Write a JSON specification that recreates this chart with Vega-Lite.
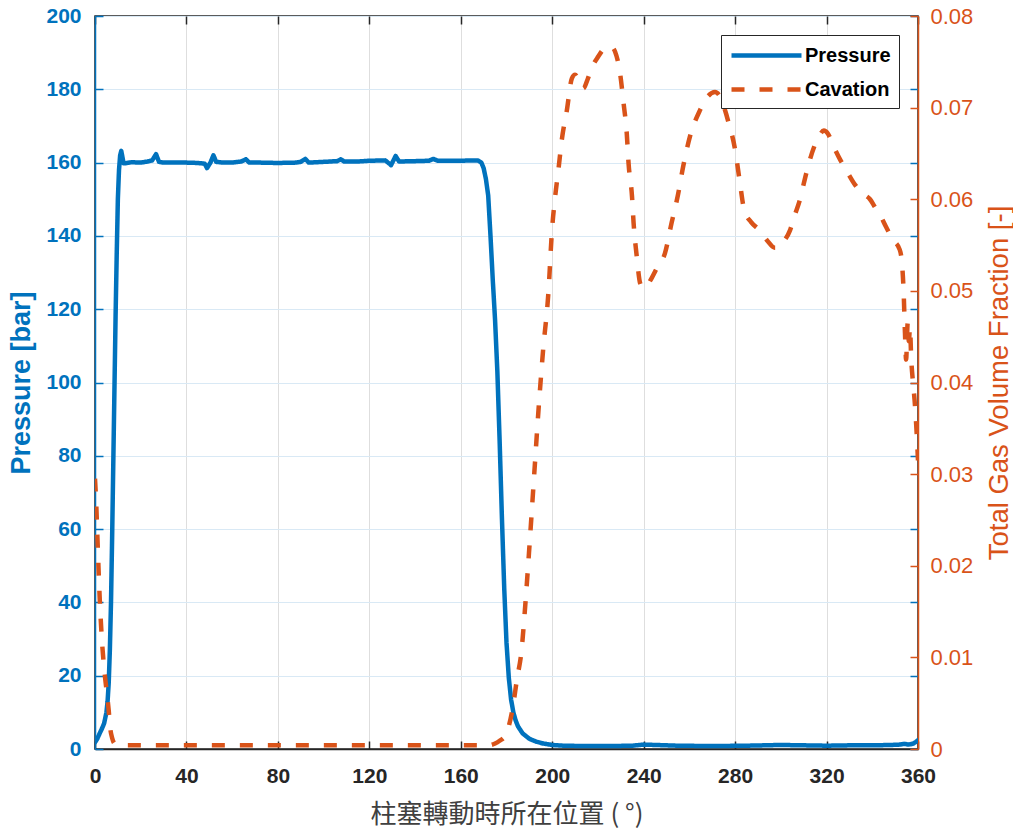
{
  "$schema": "https://vega.github.io/schema/vega-lite/v6.json",
  "width": 823,
  "height": 733,
  "autosize": "none",
  "padding": {"left": 95, "top": 16, "right": 95, "bottom": 80},
  "background": "white",
  "config": {
    "view": {"stroke": "#262626", "strokeWidth": 1.5},
    "font": "Liberation Sans"
  },
  "data": {"values": [
    {"series":"Pressure","deg":0,"value":1.8},{"series":"Pressure","deg":1,"value":2.8},{"series":"Pressure","deg":2,"value":4.2},{"series":"Pressure","deg":3,"value":5.5},{"series":"Pressure","deg":4,"value":7},{"series":"Pressure","deg":5,"value":10},{"series":"Pressure","deg":5.5,"value":13},{"series":"Pressure","deg":6,"value":18},{"series":"Pressure","deg":6.5,"value":27},{"series":"Pressure","deg":7,"value":40},{"series":"Pressure","deg":7.5,"value":58},{"series":"Pressure","deg":8,"value":78},{"series":"Pressure","deg":8.5,"value":98},{"series":"Pressure","deg":9,"value":118},{"series":"Pressure","deg":9.5,"value":135},{"series":"Pressure","deg":10,"value":150},{"series":"Pressure","deg":10.5,"value":158},{"series":"Pressure","deg":11,"value":162},{"series":"Pressure","deg":11.5,"value":163.2},{"series":"Pressure","deg":12,"value":161.5},{"series":"Pressure","deg":12.5,"value":159.8},{"series":"Pressure","deg":13,"value":159.8},{"series":"Pressure","deg":16,"value":160.1},{"series":"Pressure","deg":20,"value":160},{"series":"Pressure","deg":23,"value":160.3},{"series":"Pressure","deg":25,"value":160.6},{"series":"Pressure","deg":26.7,"value":162.3},{"series":"Pressure","deg":28,"value":160.2},{"series":"Pressure","deg":30,"value":160},{"series":"Pressure","deg":35,"value":160},{"series":"Pressure","deg":40,"value":160},{"series":"Pressure","deg":45,"value":159.9},{"series":"Pressure","deg":48,"value":159.7},{"series":"Pressure","deg":49,"value":158.5},{"series":"Pressure","deg":50.5,"value":160},{"series":"Pressure","deg":51.8,"value":162},{"series":"Pressure","deg":53,"value":160.2},{"series":"Pressure","deg":56,"value":160},{"series":"Pressure","deg":60,"value":160},{"series":"Pressure","deg":64,"value":160.3},{"series":"Pressure","deg":66,"value":160.9},{"series":"Pressure","deg":67.5,"value":160},{"series":"Pressure","deg":72,"value":160},{"series":"Pressure","deg":80,"value":159.9},{"series":"Pressure","deg":88,"value":160},{"series":"Pressure","deg":90,"value":160.2},{"series":"Pressure","deg":92,"value":161},{"series":"Pressure","deg":93.5,"value":160},{"series":"Pressure","deg":100,"value":160.2},{"series":"Pressure","deg":106,"value":160.4},{"series":"Pressure","deg":107.5,"value":160.9},{"series":"Pressure","deg":109,"value":160.3},{"series":"Pressure","deg":115,"value":160.3},{"series":"Pressure","deg":120,"value":160.5},{"series":"Pressure","deg":127,"value":160.6},{"series":"Pressure","deg":129.5,"value":159.3},{"series":"Pressure","deg":131.5,"value":161.8},{"series":"Pressure","deg":133,"value":160.3},{"series":"Pressure","deg":140,"value":160.4},{"series":"Pressure","deg":146,"value":160.5},{"series":"Pressure","deg":148,"value":161},{"series":"Pressure","deg":150,"value":160.5},{"series":"Pressure","deg":160,"value":160.5},{"series":"Pressure","deg":165,"value":160.6},{"series":"Pressure","deg":167.5,"value":160.6},{"series":"Pressure","deg":169,"value":160},{"series":"Pressure","deg":170,"value":158.5},{"series":"Pressure","deg":171,"value":155.5},{"series":"Pressure","deg":172,"value":151},{"series":"Pressure","deg":173,"value":140},{"series":"Pressure","deg":174,"value":128},{"series":"Pressure","deg":175,"value":117},{"series":"Pressure","deg":176,"value":103},{"series":"Pressure","deg":177,"value":84},{"series":"Pressure","deg":178,"value":63},{"series":"Pressure","deg":179,"value":44},{"series":"Pressure","deg":180,"value":29},{"series":"Pressure","deg":181,"value":19.5},{"series":"Pressure","deg":182,"value":13.5},{"series":"Pressure","deg":183,"value":10},{"series":"Pressure","deg":184,"value":7.8},{"series":"Pressure","deg":185,"value":6.2},{"series":"Pressure","deg":187,"value":4.3},{"series":"Pressure","deg":190,"value":2.8},{"series":"Pressure","deg":193,"value":2},{"series":"Pressure","deg":196,"value":1.5},{"series":"Pressure","deg":200,"value":1.1},{"series":"Pressure","deg":205,"value":0.9},{"series":"Pressure","deg":215,"value":0.8},{"series":"Pressure","deg":225,"value":0.8},{"series":"Pressure","deg":235,"value":0.9},{"series":"Pressure","deg":240,"value":1.2},{"series":"Pressure","deg":245,"value":1.1},{"series":"Pressure","deg":255,"value":0.9},{"series":"Pressure","deg":270,"value":0.8},{"series":"Pressure","deg":285,"value":0.9},{"series":"Pressure","deg":300,"value":1.1},{"series":"Pressure","deg":310,"value":1},{"series":"Pressure","deg":320,"value":0.9},{"series":"Pressure","deg":330,"value":1},{"series":"Pressure","deg":340,"value":1},{"series":"Pressure","deg":348,"value":1.1},{"series":"Pressure","deg":352,"value":1.2},{"series":"Pressure","deg":354,"value":1.4},{"series":"Pressure","deg":356,"value":1.2},{"series":"Pressure","deg":358,"value":1.5},{"series":"Pressure","deg":359,"value":1.9},{"series":"Pressure","deg":360,"value":2.4},
    {"series":"Cavation","deg":0,"value":0.0295},{"series":"Cavation","deg":0.5,"value":0.027},{"series":"Cavation","deg":1,"value":0.0235},{"series":"Cavation","deg":1.5,"value":0.02},{"series":"Cavation","deg":2,"value":0.0168},{"series":"Cavation","deg":3,"value":0.012},{"series":"Cavation","deg":4,"value":0.0088},{"series":"Cavation","deg":5,"value":0.0065},{"series":"Cavation","deg":6,"value":0.0042},{"series":"Cavation","deg":6.6,"value":0.0024},{"series":"Cavation","deg":7.5,"value":0.0012},{"series":"Cavation","deg":8.5,"value":0.0006},{"series":"Cavation","deg":10,"value":0.0004},{"series":"Cavation","deg":40,"value":0.0004},{"series":"Cavation","deg":80,"value":0.0004},{"series":"Cavation","deg":120,"value":0.0004},{"series":"Cavation","deg":160,"value":0.0004},{"series":"Cavation","deg":172,"value":0.0004},{"series":"Cavation","deg":175,"value":0.0006},{"series":"Cavation","deg":177,"value":0.0009},{"series":"Cavation","deg":179.3,"value":0.0014},{"series":"Cavation","deg":181,"value":0.0025},{"series":"Cavation","deg":182.8,"value":0.0046},{"series":"Cavation","deg":184.5,"value":0.0075},{"series":"Cavation","deg":186.6,"value":0.0108},{"series":"Cavation","deg":188,"value":0.015},{"series":"Cavation","deg":190,"value":0.022},{"series":"Cavation","deg":192,"value":0.0295},{"series":"Cavation","deg":194,"value":0.037},{"series":"Cavation","deg":196,"value":0.0435},{"series":"Cavation","deg":198.3,"value":0.0497},{"series":"Cavation","deg":199.9,"value":0.0566},{"series":"Cavation","deg":201.3,"value":0.0603},{"series":"Cavation","deg":202.7,"value":0.0632},{"series":"Cavation","deg":204.2,"value":0.0665},{"series":"Cavation","deg":206.4,"value":0.0697},{"series":"Cavation","deg":208.6,"value":0.0732},{"series":"Cavation","deg":210,"value":0.0736},{"series":"Cavation","deg":211.5,"value":0.0731},{"series":"Cavation","deg":213.6,"value":0.0721},{"series":"Cavation","deg":215.5,"value":0.0731},{"series":"Cavation","deg":217.2,"value":0.0743},{"series":"Cavation","deg":220.2,"value":0.0756},{"series":"Cavation","deg":222.5,"value":0.0764},{"series":"Cavation","deg":224.6,"value":0.0767},{"series":"Cavation","deg":226.2,"value":0.0766},{"series":"Cavation","deg":227.5,"value":0.0761},{"series":"Cavation","deg":229.7,"value":0.0737},{"series":"Cavation","deg":231.2,"value":0.0705},{"series":"Cavation","deg":232.6,"value":0.0672},{"series":"Cavation","deg":233.4,"value":0.0639},{"series":"Cavation","deg":234.9,"value":0.0603},{"series":"Cavation","deg":235.6,"value":0.0574},{"series":"Cavation","deg":237,"value":0.0537},{"series":"Cavation","deg":238.5,"value":0.0508},{"series":"Cavation","deg":240,"value":0.0503},{"series":"Cavation","deg":241.5,"value":0.0506},{"series":"Cavation","deg":243.5,"value":0.0514},{"series":"Cavation","deg":246,"value":0.0526},{"series":"Cavation","deg":249.3,"value":0.0541},{"series":"Cavation","deg":252.2,"value":0.0574},{"series":"Cavation","deg":255.1,"value":0.0606},{"series":"Cavation","deg":257.3,"value":0.0636},{"series":"Cavation","deg":260.2,"value":0.0668},{"series":"Cavation","deg":264.6,"value":0.0697},{"series":"Cavation","deg":268,"value":0.0712},{"series":"Cavation","deg":271.2,"value":0.0717},{"series":"Cavation","deg":273.4,"value":0.0712},{"series":"Cavation","deg":275.5,"value":0.0698},{"series":"Cavation","deg":277,"value":0.0685},{"series":"Cavation","deg":280,"value":0.0654},{"series":"Cavation","deg":282,"value":0.062},{"series":"Cavation","deg":284,"value":0.0588},{"series":"Cavation","deg":287,"value":0.0575},{"series":"Cavation","deg":290.8,"value":0.0566},{"series":"Cavation","deg":294,"value":0.0555},{"series":"Cavation","deg":297.4,"value":0.0547},{"series":"Cavation","deg":299,"value":0.0547},{"series":"Cavation","deg":301,"value":0.0553},{"series":"Cavation","deg":304,"value":0.0566},{"series":"Cavation","deg":306,"value":0.0582},{"series":"Cavation","deg":308.4,"value":0.06},{"series":"Cavation","deg":310.5,"value":0.0622},{"series":"Cavation","deg":312.7,"value":0.0643},{"series":"Cavation","deg":315,"value":0.066},{"series":"Cavation","deg":317,"value":0.067},{"series":"Cavation","deg":318.8,"value":0.0675},{"series":"Cavation","deg":320.5,"value":0.0672},{"series":"Cavation","deg":323,"value":0.0658},{"series":"Cavation","deg":326,"value":0.0643},{"series":"Cavation","deg":329,"value":0.063},{"series":"Cavation","deg":332.4,"value":0.0616},{"series":"Cavation","deg":336,"value":0.0606},{"series":"Cavation","deg":339,"value":0.06},{"series":"Cavation","deg":341,"value":0.0592},{"series":"Cavation","deg":343.4,"value":0.0583},{"series":"Cavation","deg":346,"value":0.057},{"series":"Cavation","deg":349,"value":0.0556},{"series":"Cavation","deg":352,"value":0.0545},{"series":"Cavation","deg":353,"value":0.053},{"series":"Cavation","deg":353.7,"value":0.05},{"series":"Cavation","deg":354.3,"value":0.0454},{"series":"Cavation","deg":354.8,"value":0.0425},{"series":"Cavation","deg":355.5,"value":0.0465},{"series":"Cavation","deg":356,"value":0.0445},{"series":"Cavation","deg":356.5,"value":0.046},{"series":"Cavation","deg":357,"value":0.0428},{"series":"Cavation","deg":357.8,"value":0.04},{"series":"Cavation","deg":358.5,"value":0.0381},{"series":"Cavation","deg":359.3,"value":0.035},{"series":"Cavation","deg":360,"value":0.0315}
  ]},
  "layer": [
    {
      "layer": [
        {
          "transform": [{"filter": "datum.series === 'Pressure'"}],
          "mark": {"type": "line", "strokeWidth": 4.5, "strokeJoin": "round", "strokeCap": "round", "clip": true},
          "encoding": {
            "x": {"field": "deg", "type": "quantitative",
              "scale": {"domain": [0, 360], "nice": false},
              "axis": {"orient": "bottom", "values": [0,40,80,120,160,200,240,280,320,360],
                "title": "柱塞轉動時所在位置 ( °)", "titleFont": "Noto Sans CJK TC", "titleFontSize": 26, "titleFontWeight": "normal", "titleColor": "#404040", "titlePadding": 15,
                "labelFont": "Liberation Sans", "labelFontSize": 21, "labelFontWeight": "bold", "labelColor": "#262626", "labelPadding": 24, "labelFlush": false,
                "domainColor": "#262626", "domainWidth": 1.5, "tickColor": "#262626", "tickWidth": 1.5, "tickSize": -8,
                "grid": true, "gridColor": "#dedede", "gridWidth": 1}},
            "y": {"field": "value", "type": "quantitative",
              "scale": {"domain": [0, 200], "nice": false},
              "axis": {"orient": "left", "values": [0,20,40,60,80,100,120,140,160,180,200],
                "title": "Pressure [bar]", "titleFont": "Liberation Sans", "titleFontSize": 27, "titleFontWeight": "bold", "titleColor": "#0072BD", "titlePadding": 10,
                "labelFont": "Liberation Sans", "labelFontSize": 21, "labelFontWeight": "bold", "labelColor": "#0072BD", "labelPadding": 22,
                "domainColor": "#0072BD", "domainWidth": 1.5, "tickColor": "#0072BD", "tickWidth": 1.5, "tickSize": -8,
                "grid": true, "gridColor": "#d9e9f5", "gridWidth": 1}},
            "color": {"field": "series", "type": "nominal",
              "scale": {"domain": ["Pressure", "Cavation"], "range": ["#0072BD", "#D95319"]},
              "legend": {"orient": "top-right", "offset": 19, "title": null, "symbolType": "M-3.5,0H3.5", "symbolSize": 400, "symbolOffset": 25, "symbolStrokeWidth": 4.5,
                "labelFont": "Liberation Sans", "labelFontSize": 20, "labelFontWeight": "bold", "labelColor": "#000000", "labelOffset": 26,
                "strokeColor": "#262626", "fillColor": "#ffffff", "padding": 8, "rowPadding": 11}},
            "strokeDash": {"field": "series", "type": "nominal",
              "scale": {"domain": ["Pressure", "Cavation"], "range": [[1, 0], [13, 15]]},
              "legend": {"orient": "top-right", "offset": 19, "title": null, "symbolType": "M-3.5,0H3.5", "symbolSize": 400, "symbolOffset": 25, "symbolStrokeWidth": 4.5,
                "labelFont": "Liberation Sans", "labelFontSize": 20, "labelFontWeight": "bold", "labelColor": "#000000", "labelOffset": 26,
                "strokeColor": "#262626", "fillColor": "#ffffff", "padding": 8, "rowPadding": 11}}
          }
        },
        {
          "transform": [{"filter": "datum.series === 'Pressure'"}],
          "mark": {"type": "line", "opacity": 0},
          "encoding": {
            "x": {"field": "deg", "type": "quantitative",
              "axis": {"orient": "top", "values": [0,40,80,120,160,200,240,280,320,360], "labels": false, "domain": false, "grid": false, "title": null,
                "tickColor": "#262626", "tickWidth": 1.5, "tickSize": -8}},
            "y": {"field": "value", "type": "quantitative",
              "axis": {"orient": "right", "values": [0,20,40,60,80,100,120,140,160,180,200], "labels": false, "domain": false, "grid": false, "title": null,
                "tickColor": "#0072BD", "tickWidth": 1.5, "tickSize": -8}}
          }
        }
      ]
    },
    {
      "transform": [{"filter": "datum.series === 'Cavation'"}],
      "mark": {"type": "line", "strokeWidth": 4.5, "strokeCap": "butt", "interpolate": "monotone", "clip": true},
      "encoding": {
        "x": {"field": "deg", "type": "quantitative", "axis": null},
        "y": {"field": "value", "type": "quantitative",
          "scale": {"domain": [0, 0.08], "nice": false},
          "axis": {"orient": "right", "values": [0,0.01,0.02,0.03,0.04,0.05,0.06,0.07,0.08], "format": "~g",
            "title": "Total Gas Volume Fraction [-]", "titleFont": "Liberation Sans", "titleFontSize": 27.5, "titleFontWeight": "normal", "titleColor": "#D95319",
            "titleAngle": -90, "titleBaseline": "top", "titlePadding": 13,
            "labelFont": "Liberation Sans", "labelFontSize": 22, "labelFontWeight": "normal", "labelColor": "#D95319", "labelPadding": 20,
            "domainColor": "#D95319", "domainWidth": 1.5, "tickColor": "#D95319", "tickWidth": 1.5, "tickSize": -8, "grid": false}},
        "color": {"field": "series", "type": "nominal",
          "scale": {"domain": ["Pressure", "Cavation"], "range": ["#0072BD", "#D95319"]}},
        "strokeDash": {"field": "series", "type": "nominal",
          "scale": {"domain": ["Pressure", "Cavation"], "range": [[1, 0], [13, 15]]}}
      }
    }
  ],
  "resolve": {"scale": {"y": "independent"}}
}
